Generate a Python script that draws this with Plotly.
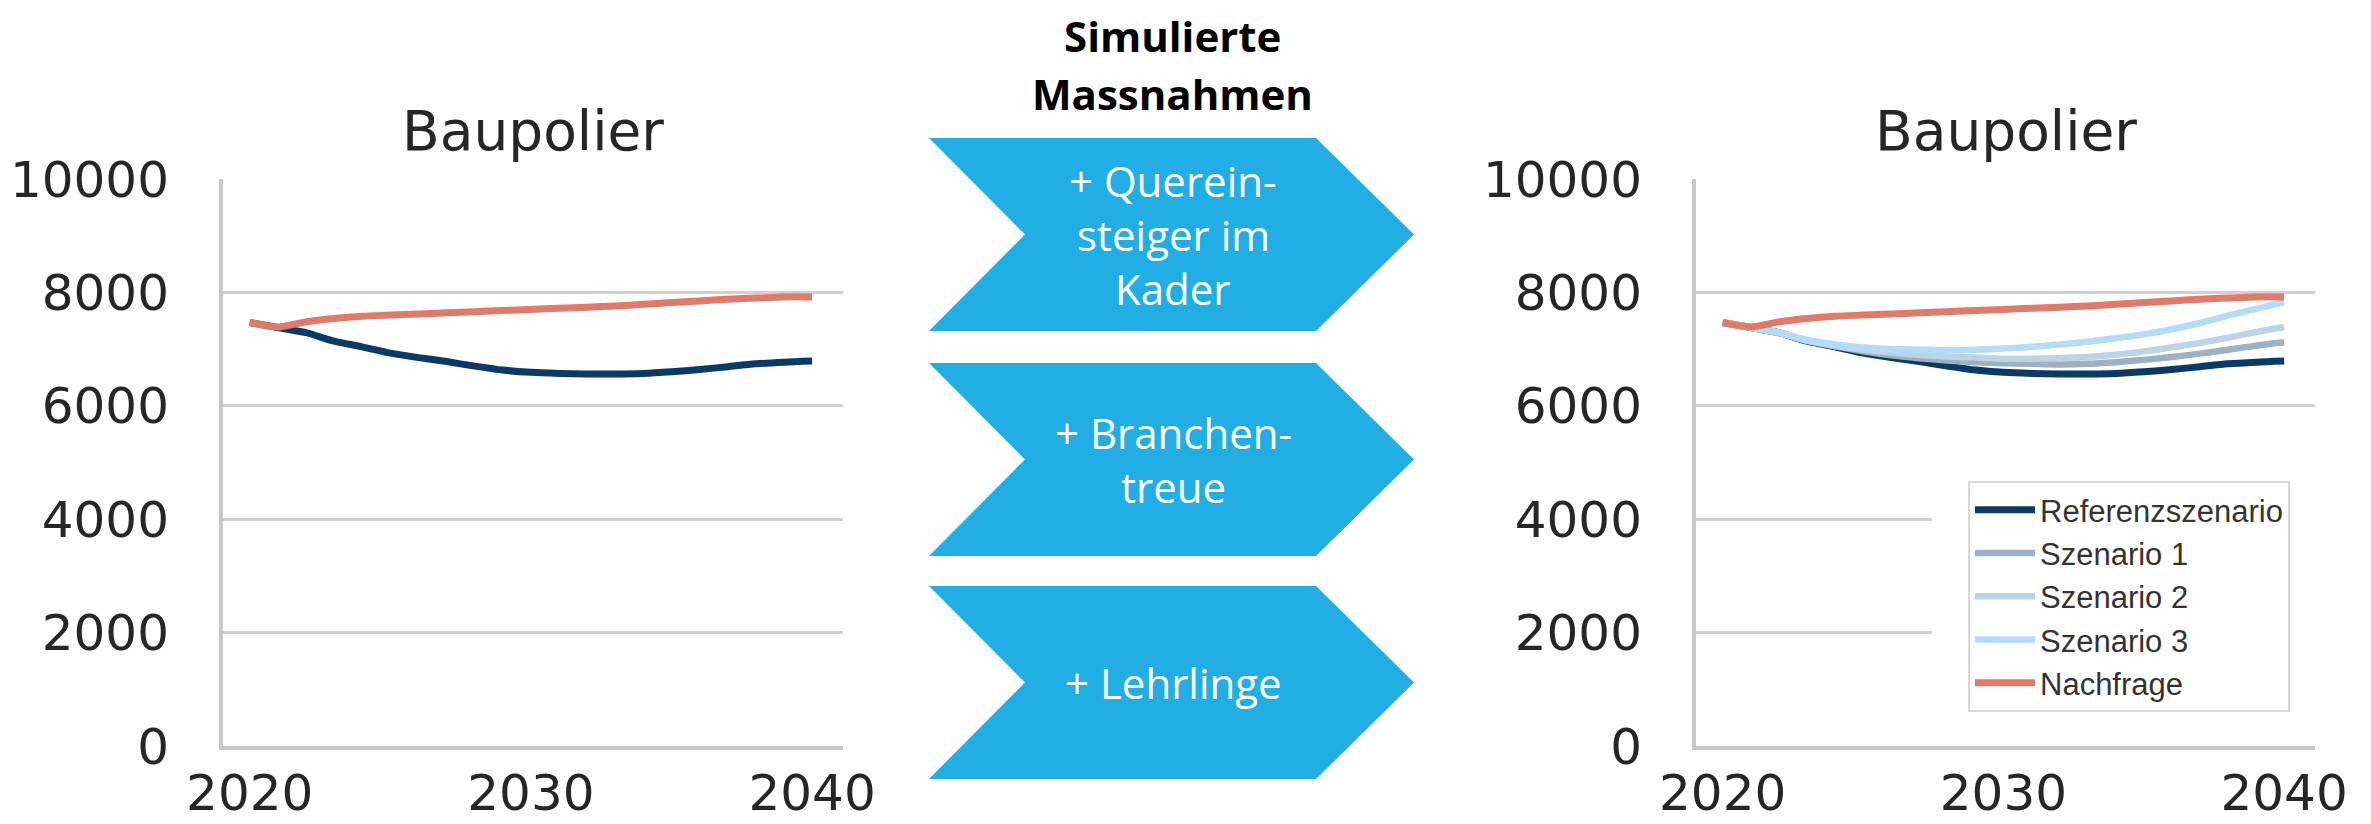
import plotly.graph_objects as go

# ---------------- data ----------------
years = list(range(2020, 2041))
referenz = [7470, 7380, 7290, 7140, 7040, 6930, 6850, 6780, 6700, 6630, 6590,
            6570, 6560, 6560, 6570, 6600, 6640, 6690, 6740, 6770, 6790]
szenario1 = [7470, 7380, 7290, 7145, 7050, 6960, 6890, 6840, 6800, 6770, 6750,
             6740, 6730, 6740, 6770, 6810, 6860, 6920, 6990, 7060, 7120]
szenario2 = [7470, 7380, 7290, 7150, 7060, 6990, 6940, 6900, 6870, 6850, 6830,
             6830, 6840, 6860, 6900, 6960, 7030, 7110, 7200, 7300, 7390]
szenario3 = [7470, 7380, 7290, 7160, 7080, 7030, 7000, 6990, 6980, 6990, 7010,
             7040, 7080, 7130, 7190, 7260, 7350, 7460, 7590, 7710, 7830]
nachfrage = [7470, 7390, 7480, 7540, 7580, 7600, 7620, 7640, 7660, 7680, 7700,
             7720, 7740, 7760, 7790, 7820, 7850, 7880, 7900, 7920, 7920]

series_names = ["Referenzszenario", "Szenario 1", "Szenario 2", "Szenario 3", "Nachfrage"]
series_colors = ["#0b3a69", "#9eb1c3", "#bdd3e6", "#b4dcf6", "#e27a6a"]
series_widths = [7, 6.5, 6.5, 6.5, 7]

x_ticks = [2020, 2030, 2040]
y_ticks = [0, 2000, 4000, 6000, 8000, 10000]
y_ticktext = ["0", "2000", "4000", "6000", "8000", "10000"]
chart_title = "Baupolier"
middle_title = ["Simulierte", "Massnahmen"]
measures = [["+ Querein-", "steiger im", "Kader"], ["+ Branchen-", "treue"], ["+ Lehrlinge"]]

# ---------------- layout helpers ----------------
W, H = 2371, 824
def px(v):
    return v / W
def py(v):
    return 1 - v / H

fig = go.Figure()

# left chart: reference + demand
for name, vals, col, wd in [(series_names[0], referenz, series_colors[0], series_widths[0]),
                            (series_names[4], nachfrage, series_colors[4], series_widths[4])]:
    fig.add_trace(go.Scatter(x=years, y=vals, mode="lines", name=name, showlegend=False,
                             line=dict(color=col, width=wd, shape="spline", smoothing=0.8),
                             xaxis="x", yaxis="y"))

# right chart: all series
for name, vals, col, wd in zip(series_names, [referenz, szenario1, szenario2, szenario3, nachfrage],
                               series_colors, series_widths):
    fig.add_trace(go.Scatter(x=years, y=vals, mode="lines", name=name, showlegend=True,
                             line=dict(color=col, width=wd, shape="spline", smoothing=0.8),
                             xaxis="x2", yaxis="y2"))

tick_font = dict(family="DejaVu Sans", size=50, color="#262626")
grid_col = "#d0d0d0"
axis_col = "#c8c8c8"
ydom = [py(738), py(171)]

def xaxis(dom, anchor):
    return dict(domain=dom, anchor=anchor, range=[2019.05, 2041.1], tickvals=x_ticks,
                ticktext=[str(v) for v in x_ticks],
                showgrid=False, zeroline=False, showline=True, linecolor=axis_col, linewidth=4,
                ticks="", tickfont=tick_font, ticklabelstandoff=0, fixedrange=True,
                automargin=False)

def yaxis(anchor):
    return dict(domain=ydom, anchor=anchor, range=[0, 10000], tickvals=y_ticks,
                ticktext=y_ticktext,
                showgrid=True, gridcolor=grid_col, gridwidth=3, zeroline=False,
                showline=True, linecolor=axis_col, linewidth=4,
                ticks="", tickfont=tick_font, ticklabelstandoff=40, fixedrange=True,
                automargin=False)

annotations = []
shapes = []

# chart titles
for cx in [(215 + 835) / 2, (1688 + 2307) / 2]:
    annotations.append(dict(text=chart_title, x=px(cx), y=py(123), xref="paper", yref="paper",
                            xanchor="center", yanchor="middle", showarrow=False,
                            font=dict(family="DejaVu Sans", size=55, color="#262626")))

# middle heading
for txt, cy in zip(middle_title, [28, 85]):
    annotations.append(dict(text=txt, x=px(1164), y=py(cy), xref="paper", yref="paper",
                            xanchor="center", yanchor="middle", showarrow=False,
                            font=dict(family="Open Sans", size=42, color="#000000", weight="bold")))

# chevrons
chev_tops = [130, 355, 578]
chev_h = 193
for top, lines in zip(chev_tops, measures):
    bot = top + chev_h
    mid = (top + bot) / 2
    pts = [(921, top), (1308, top), (1406, mid), (1308, bot), (921, bot), (1017, mid)]
    path = "M " + " L ".join(f"{px(a):.5f},{py(b):.5f}" for a, b in pts) + " Z"
    shapes.append(dict(type="path", path=path, xref="paper", yref="paper",
                       fillcolor="#20aee4", line=dict(width=0), layer="above"))
    n = len(lines)
    for i, t in enumerate(lines):
        cy = mid + (i - (n - 1) / 2) * 54
        annotations.append(dict(text=t, x=px(1165), y=py(cy), xref="paper", yref="paper",
                                xanchor="center", yanchor="middle", showarrow=False,
                                font=dict(family="Open Sans", size=42, color="#ffffff")))

# white background behind legend (grid lines stop before it)
shapes.append(dict(type="rect", xref="paper", yref="paper", x0=px(1924), x1=px(2312),
                   y0=py(712), y1=py(462), fillcolor="white", line=dict(width=0), layer="above"))

fig.update_layout(
    width=W, height=H, margin=dict(l=0, r=0, t=0, b=0, autoexpand=False),
    paper_bgcolor="white", plot_bgcolor="white",
    xaxis=xaxis([px(215), px(835)], "y"),
    yaxis=yaxis("x"),
    xaxis2=xaxis([px(1688), px(2307)], "y2"),
    yaxis2=yaxis("x2"),
    legend=dict(x=px(1960), y=py(473), xanchor="left", yanchor="top",
                bgcolor="white", bordercolor="#d8d8d8", borderwidth=2,
                font=dict(family="Liberation Sans", size=31, color="#333333"),
                itemwidth=60, tracegroupgap=0),
    annotations=annotations, shapes=shapes,
    showlegend=True,
)

fig.write_html("out.html")
